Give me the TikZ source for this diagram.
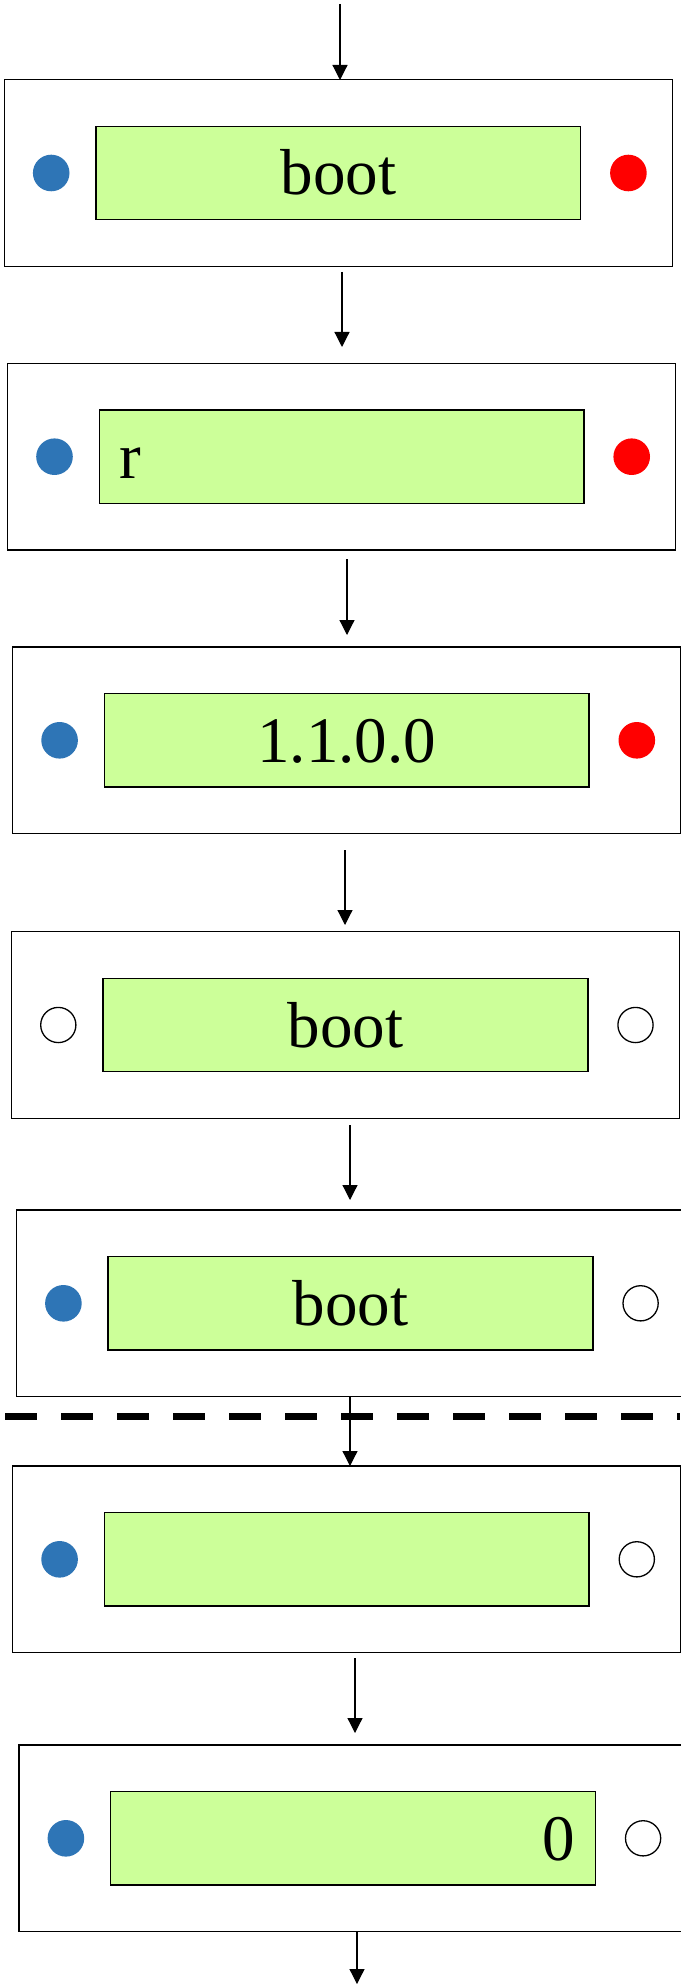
\documentclass[tikz,border=0pt]{standalone}
\usepackage{fontspec}
\setmainfont{Liberation Serif}
\usetikzlibrary{arrows.meta}

\definecolor{lcdgreen}{RGB}{204,255,153}
\definecolor{dotblue}{RGB}{46,117,182}

\begin{document}
\begin{tikzpicture}[x=0.5pt, y=-0.5pt,
    panel/.style={draw, line width=0.65pt, minimum width=334pt, minimum height=93.35pt, inner sep=0pt},
    screen/.style={draw, fill=lcdgreen, line width=0.75pt, minimum width=242.35pt, minimum height=46.7pt,
        text width=222.35pt, inner xsep=10pt, inner ysep=0pt, text height=22pt, text depth=0pt,
        font=\fontsize{32.5}{39}\selectfont},
    lft/.style={align=left}, ctr/.style={align=center}, rgt/.style={align=right},
    dot/.style={circle, minimum size=18.3pt, inner sep=0pt},
    bdot/.style={dot, fill=dotblue},
    rdot/.style={dot, fill=red},
    odot/.style={dot, draw, fill=white, line width=0.65pt, minimum size=17.6pt},
    arr/.style={-{Triangle[width=7.5pt,length=7.5pt]}, line width=0.6pt}]

    % Page
    \fill[white] (0,0) rectangle (680,1984);
    \useasboundingbox (0,0) rectangle (680,1984);

    % Panels: number / x / y / text / left led / right led / alignment
    \foreach \i/\cx/\cy/\txt/\lt/\rt/\al in {
        1/338.3/173/boot/bdot/rdot/ctr,
        2/341.6/456.7/r/bdot/rdot/lft,
        3/346.7/740.3/1.1.0.0/bdot/rdot/ctr,
        4/345.4/1025/boot/odot/odot/ctr,
        5/350.5/1303.3/boot/bdot/odot/ctr,
        6/346.7/1559.3/{}/bdot/odot/ctr,
        7/353/1838.3/0/bdot/odot/rgt}
    {
        \node[panel] (b\i) at (\cx,\cy) {};
        \node[screen, \al] (in\i) at (\cx,\cy) {\txt};
        \node[\lt] (l\i) at ([xshift=-22pt]in\i.west) {};
        \node[\rt] (r\i) at ([xshift=23.5pt]in\i.east) {};
    }

    % Separator
    \draw[line width=3.5pt, dash pattern=on 16pt off 12pt] (5,1416) -- (680,1416);

    % Arrows between the panels
    \foreach \j/\ax/\ya/\yb in {
        1/340/4/80, 2/342/272/347, 3/347/559/635, 4/345/850/925,
        5/350/1125/1200, 6/350/1397/1466, 7/355/1658/1733, 8/357/1932/1984}
    {
        \coordinate (s\j) at (\ax,\ya);
        \coordinate (e\j) at (\ax,\yb);
        \draw[arr] (s\j) -- (e\j);
    }

\end{tikzpicture}
\end{document}
